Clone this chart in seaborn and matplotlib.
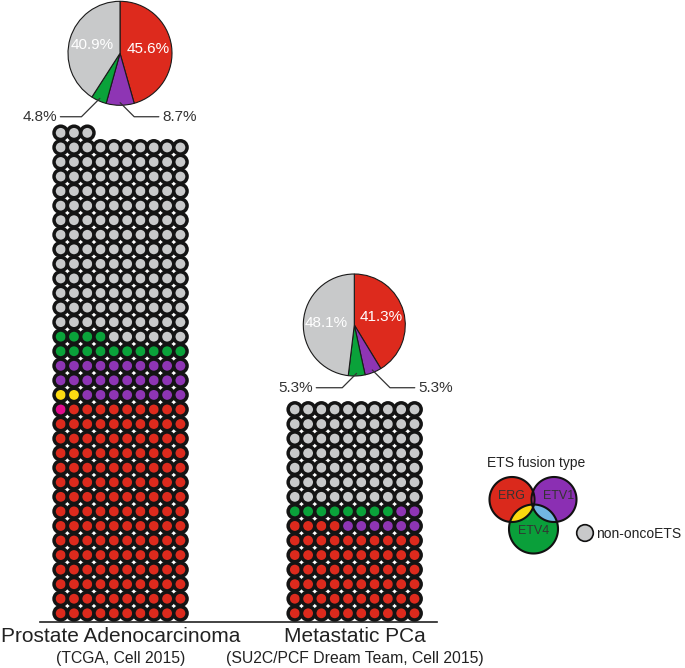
import numpy as np
import pandas as pd
import matplotlib
matplotlib.use("Agg")
import matplotlib.pyplot as plt
import seaborn as sns
from matplotlib.patches import Circle, Polygon

sns.set_theme(style="white")
plt.rcParams['font.family'] = ['Liberation Sans', 'DejaVu Sans']

# ---------------- data ----------------
categories = ["ERG", "ERG+ETV1", "ERG+ETV4", "ETV1", "ETV4", "non-oncoETS"]
row_order = ["ERG+ETV1", "ERG+ETV4", "ERG", "ETV4", "ETV1", "non-oncoETS"]
cohorts = ["Prostate Adenocarcinoma", "Metastatic PCa"]
cohort_sources = ["(TCGA, Cell 2015)", "(SU2C/PCF Dream Team, Cell 2015)"]
tcga_counts = [149, 1, 2, 28, 14, 139]
su2c_counts = [64, 0, 0, 8, 8, 70]
pie_labels = ["ERG", "ETV1", "ETV4", "non-oncoETS"]
tcga_pie_pct = [45.6, 8.7, 4.8, 40.9]
su2c_pie_pct = [41.3, 5.3, 5.3, 48.1]

palette = {"ERG": "#DD2A1D", "ERG+ETV1": "#E00B8C", "ERG+ETV4": "#FDDB12",
           "ETV1": "#8E35B4", "ETV4": "#0AA23A", "non-oncoETS": "#C8C9CA"}

W, H = 685, 668
fig = plt.figure(figsize=(W / 100, H / 100), dpi=100)
fig.patch.set_facecolor("white")

NCOL = 10
GROUP_OFFSET = 17.6


def waffle(counts, offset):
    seq = np.repeat(categories, counts)
    rows = np.arange(len(seq)) // NCOL
    recs = []
    for r in np.unique(rows):
        cats = sorted(seq[rows == r], key=row_order.index)
        for c, cat in enumerate(cats):
            recs.append((c + offset, r, cat))
    return pd.DataFrame(recs, columns=["x", "row", "category"])


df = pd.concat([waffle(tcga_counts, 0), waffle(su2c_counts, GROUP_OFFSET)],
               ignore_index=True)

# main waffle axes
left_px, right_px, base_px, top_px = 40, 437, 621.7, 110
ax = fig.add_axes([left_px / W, (H - base_px) / H,
                   (right_px - left_px) / W, (base_px - top_px) / H])
sns.scatterplot(data=df, x="x", y="row", hue="category", palette=palette,
                s=92, edgecolor="#141414", linewidth=2.5, legend=False, ax=ax)
ax.set_xlim(-1.556, 28.29)
ax.set_ylim(-0.577, 34.57)
ax.set_xticks([])
ax.set_yticks([])
ax.set_xlabel("")
ax.set_ylabel("")
sns.despine(ax=ax, left=True)
ax.spines["bottom"].set_color("#222222")
ax.spines["bottom"].set_linewidth(1.2)
ax.spines["bottom"].set_zorder(0)
ax.set_facecolor("none")

centers = [(NCOL - 1) / 2, GROUP_OFFSET + (NCOL - 1) / 2]
for cx, name, src in zip(centers, cohorts, cohort_sources):
    ax.annotate(name, xy=(cx, 0), xycoords=("data", "axes fraction"),
                xytext=(0, -15 * 0.72), textcoords="offset points",
                ha="center", va="center", fontsize=15, color="#222222",
                annotation_clip=False)
    ax.annotate(src, xy=(cx, 0), xycoords=("data", "axes fraction"),
                xytext=(0, -36.5 * 0.72), textcoords="offset points",
                ha="center", va="center", fontsize=11.3, color="#222222",
                annotation_clip=False)

pie_colors = [palette["ERG"], palette["ETV1"], palette["ETV4"], palette["non-oncoETS"]]


def draw_pie(cx, cy, r, pct, lx_left, lx_right, ly):
    size = 2.5 * r
    pax = fig.add_axes([(cx - size / 2) / W, (H - cy - size / 2) / H, size / W, size / H])
    wedges, _, autot = pax.pie(
        pct, colors=pie_colors, startangle=90, counterclock=False,
        autopct=lambda p: f"{p:.1f}%" if p > 10 else "", pctdistance=0.55,
        wedgeprops=dict(edgecolor="#1a1a1a", linewidth=0.8),
        textprops=dict(color="white", fontsize=11))
    pax.set_xlim(-1.25, 1.25)
    pax.set_ylim(-1.25, 1.25)
    for w, val, side in [(wedges[1], pct[1], 1), (wedges[2], pct[2], -1)]:
        ang = np.deg2rad((w.theta1 + w.theta2) / 2)
        anchor = (0.95 * np.cos(ang), 0.95 * np.sin(ang))
        tx = lx_right if side > 0 else lx_left
        pax.annotate(f"{val:.1f}%", xy=anchor, xytext=(tx, ly),
                     ha="left" if side > 0 else "right", va="center",
                     fontsize=11, color="#333333", annotation_clip=False,
                     arrowprops=dict(arrowstyle="-", color="#333333", lw=0.9,
                                     shrinkA=0, shrinkB=0,
                                     relpos=(0 if side > 0 else 1, 0.5),
                                     connectionstyle="angle,angleA=0,angleB=%d,rad=0"
                                     % (-45 if side > 0 else 45)))
    return pax


draw_pie(120, 53.3, 52, tcga_pie_pct, -1.21, 0.81, -1.22)
draw_pie(354.3, 325, 51, su2c_pie_pct, -0.81, 1.25, -1.23)

# ---------------- Venn legend ----------------
lax = fig.add_axes([480 / W, (H - 560) / H, 205 / W, 120 / H])
lax.set_xlim(480, 685)
lax.set_ylim(560, 440)
lax.axis("off")


def circle_poly(c, r, n=240):
    t = np.linspace(0, 2 * np.pi, n, endpoint=False)
    return np.column_stack([c[0] + r * np.cos(t), c[1] + r * np.sin(t)])


def clip_convex(subject, clipper):
    out = list(subject)
    m = len(clipper)
    for i in range(m):
        a = clipper[i]
        b = clipper[(i + 1) % m]
        inp = out
        out = []
        if not inp:
            break

        def inside(p):
            return (b[0] - a[0]) * (p[1] - a[1]) - (b[1] - a[1]) * (p[0] - a[0]) >= 0

        def inter(p, q):
            d1 = (b[0] - a[0]) * (p[1] - a[1]) - (b[1] - a[1]) * (p[0] - a[0])
            d2 = (b[0] - a[0]) * (q[1] - a[1]) - (b[1] - a[1]) * (q[0] - a[0])
            t = d1 / (d1 - d2)
            return (p[0] + t * (q[0] - p[0]), p[1] + t * (q[1] - p[1]))

        s = inp[-1]
        for e in inp:
            if inside(e):
                if not inside(s):
                    out.append(inter(s, e))
                out.append(e)
            elif inside(s):
                out.append(inter(s, e))
            s = e
    return np.array(out)


venn = {"ERG": ((512, 499.5), 22.5), "ETV1": ((554, 499.5), 22.5), "ETV4": ((533.5, 529), 24.5)}
venn_fill = {"ERG": "#DA291C", "ETV1": "#8B2FB3", "ETV4": "#0A9F3A"}
polys = {k: circle_poly(c, r) for k, (c, r) in venn.items()}
for k in ["ERG", "ETV1", "ETV4"]:
    lax.add_patch(Polygon(polys[k], closed=True, facecolor=venn_fill[k], edgecolor="none"))
ab = clip_convex(polys["ETV1"], polys["ERG"])
ac = clip_convex(polys["ETV4"], polys["ERG"])
bc = clip_convex(polys["ETV4"], polys["ETV1"])
abc = clip_convex(ab, polys["ETV4"])
for poly, col in [(ab, "#DE3A96"), (ac, "#FCD90F"), (bc, "#72B6E2"), (abc, "#FBE4EE")]:
    lax.add_patch(Polygon(poly, closed=True, facecolor=col, edgecolor="none"))
for k in ["ERG", "ETV1", "ETV4"]:
    lax.add_patch(Polygon(polys[k], closed=True, facecolor="none",
                          edgecolor="#111111", linewidth=1.5))
lax.text(536, 463, "ETS fusion type", ha="center", va="center", fontsize=10, color="#222222")
lax.text(511, 496, "ERG", ha="center", va="center", fontsize=9, color="#333333")
lax.text(559, 496, "ETV1", ha="center", va="center", fontsize=9, color="#333333")
lax.text(534, 531, "ETV4", ha="center", va="center", fontsize=9, color="#333333")
lax.add_patch(Circle((585, 533), 8.3, facecolor=palette["non-oncoETS"],
                     edgecolor="#111111", linewidth=1.2))
lax.text(596, 533.5, "non-oncoETS", ha="left", va="center", fontsize=10, color="#222222")

fig.savefig("out.png", dpi=100, facecolor="white")
